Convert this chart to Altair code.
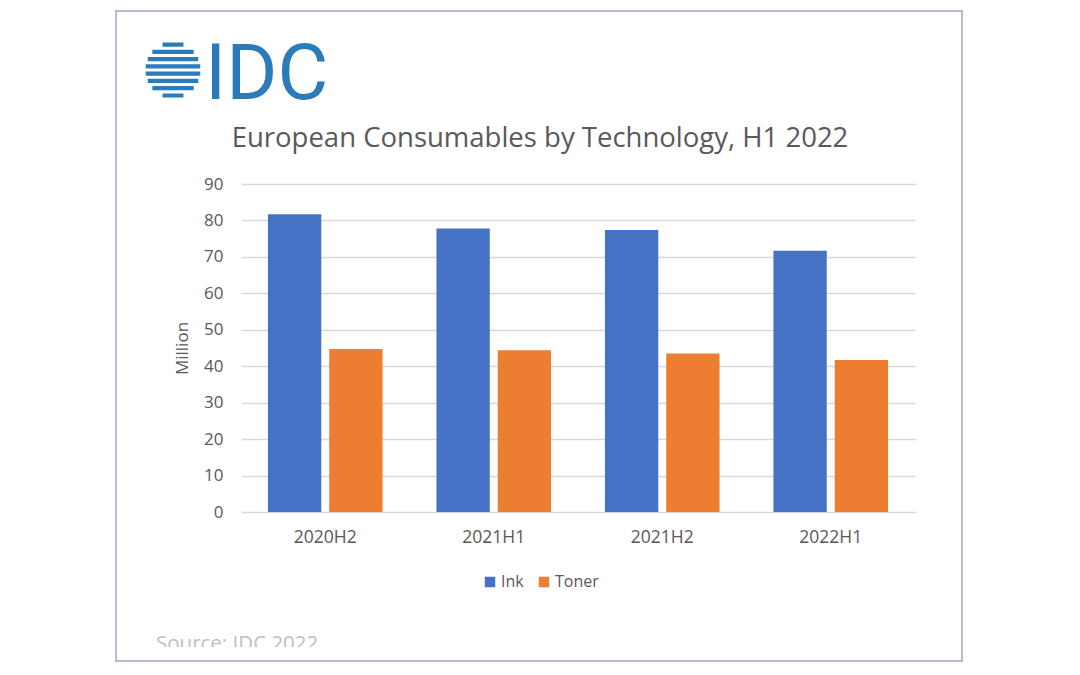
import altair as alt
import pandas as pd

periods = ["2020H2", "2021H1", "2021H2", "2022H1"]
techs = ["Ink", "Toner"]
ink = [81.7, 77.8, 77.4, 71.7]
toner = [44.7, 44.4, 43.5, 41.7]
colors = ["#4472c4", "#ed7d31"]
title_text = "European Consumables by Technology, H1 2022"
source_text = "Source: IDC 2022"
y_ticks = list(range(0, 91, 10))

rows = []
for p, a, b in zip(periods, ink, toner):
    rows.append({"period": p, "tech": "Ink", "value": a})
    rows.append({"period": p, "tech": "Toner", "value": b})
df = pd.DataFrame(rows)

GRAY = "#595959"
LOGO_BLUE = "#2b7bba"

# plot area origin in page pixels
OX, OY = 241, 184
W, H = 674, 328

# globe glyph: horizontal stripes inside a unit circle
n = 8
h = 0.15
g = (2 - n * h) / (n - 1)
parts = []
for i in range(n):
    y0 = -1 + i * (h + g)
    y1 = y0 + h
    ym = (y0 + y1) / 2
    hw = max(0.0, 1 - ym * ym) ** 0.5
    parts.append(f"M{-hw:.3f},{y0:.3f}H{hw:.3f}V{y1:.3f}H{-hw:.3f}Z")
globe_path = "".join(parts)

one = pd.DataFrame({"k": [0]})

border = alt.Chart(one).mark_rect(fillOpacity=0, stroke="#b4bcd8", strokeWidth=2).encode(
    x=alt.value(116 - OX), x2=alt.value(962 - OX),
    y=alt.value(11 - OY), y2=alt.value(661 - OY),
)

globe = alt.Chart(one).mark_point(shape=globe_path, filled=True, color=LOGO_BLUE, opacity=1, size=55 * 55).encode(
    x=alt.value(173 - OX), y=alt.value(70 - OY)
)

idc = alt.Chart(one).mark_text(
    text="IDC", font="Roboto", fontSize=78, color=LOGO_BLUE, align="left", baseline="alphabetic"
).encode(x=alt.value(205 - OX), y=alt.value(99 - OY))

title = alt.Chart(one).mark_text(
    text=title_text, font="Open Sans", fontSize=27.5, color=GRAY, align="center", baseline="alphabetic"
).encode(x=alt.value(540 - OX), y=alt.value(147 - OY))

source = alt.Chart(one).mark_text(
    text=source_text, font="Open Sans", fontSize=20.5, color="#bfbfbf", align="left", baseline="alphabetic"
).encode(x=alt.value(156 - OX), y=alt.value(650 - OY))

cover = alt.Chart(one).mark_rect(color="white").encode(
    x=alt.value(120 - OX), x2=alt.value(958 - OX),
    y=alt.value(647 - OY), y2=alt.value(659 - OY),
)

bars = alt.Chart(df).mark_bar().encode(
    x=alt.X(
        "period:N", sort=periods,
        scale=alt.Scale(paddingInner=0.32, paddingOuter=0.16),
        axis=alt.Axis(title=None, labelAngle=0, ticks=False, domain=False, grid=False,
                      labelPadding=16, labelFontSize=17.5, labelColor=GRAY, labelFont="Open Sans"),
    ),
    xOffset=alt.XOffset("tech:N", sort=techs, scale=alt.Scale(paddingInner=0.13, paddingOuter=0)),
    y=alt.Y(
        "value:Q",
        scale=alt.Scale(domain=[0, 90], nice=False),
        axis=alt.Axis(values=y_ticks, title="Million", ticks=False, domain=False,
                      labelPadding=18, labelFontSize=17, labelColor=GRAY, labelFont="Open Sans",
                      gridColor="#d9d9d9", gridWidth=1.3,
                      titleFontSize=17, titleFontWeight="normal", titleColor=GRAY,
                      titleFont="Open Sans", titlePadding=12),
    ),
    color=alt.Color(
        "tech:N",
        scale=alt.Scale(domain=techs, range=colors),
        legend=alt.Legend(title=None, orient="none", legendX=482 - OX, legendY=574 - OY,
                          direction="horizontal", symbolType="square", symbolSize=110,
                          symbolStrokeWidth=0, labelFontSize=16, labelColor=GRAY,
                          labelFont="Open Sans", columnPadding=12, labelOffset=3),
    ),
)

chart = alt.layer(border, globe, idc, title, source, cover, bars).properties(
    width=W, height=H,
    autosize=alt.AutoSizeParams(type="none"),
    padding={"left": OX, "top": OY, "right": 1080 - OX - W, "bottom": 675 - OY - H},
).configure(background="white").configure_view(stroke=None)

chart.save("out.html", embed_options={"renderer": "svg", "actions": False})
